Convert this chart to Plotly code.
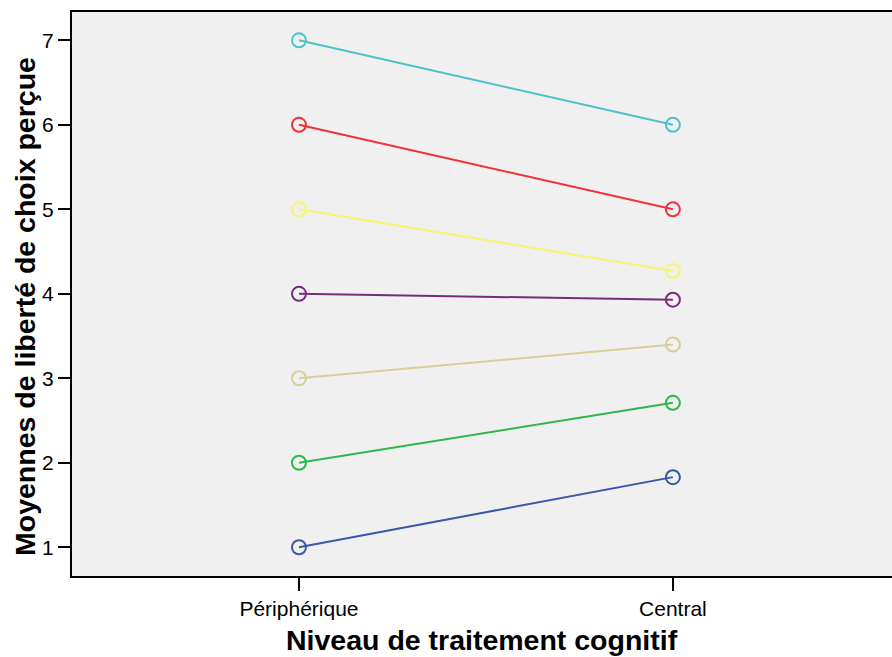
import plotly.graph_objects as go

categories = ["Périphérique", "Central"]
series_names = ["s1", "s2", "s3", "s4", "s5", "s6", "s7"]
peripherique = [7, 6, 5, 4, 3, 2, 1]
central = [6.0, 5.0, 4.27, 3.93, 3.40, 2.71, 1.83]
colors = ["#4CC3C6", "#F2303A", "#F7F56E", "#7A2A7E", "#D8CF98", "#2EB84C", "#3A56A8"]
y_ticks = [1, 2, 3, 4, 5, 6, 7]
x_title = "Niveau de traitement cognitif"
y_title = "Moyennes de liberté de choix perçue"

fig = go.Figure()
for name, a, b, c in zip(series_names, peripherique, central, colors):
    fig.add_trace(go.Scatter(
        x=categories, y=[a, b], mode="lines+markers", name=name,
        line=dict(color=c, width=2),
        marker=dict(symbol="circle-open", size=14, color=c, line=dict(width=2, color=c)),
        showlegend=False, cliponaxis=False,
    ))

font = "Liberation Sans, Arial, sans-serif"
fig.update_layout(
    width=892, height=657,
    margin=dict(l=72, r=0, t=12, b=81),
    paper_bgcolor="white", plot_bgcolor="#F0F0F0",
    font=dict(family=font, color="black"),
    xaxis=dict(type="category", range=[-0.607, 1.586], showgrid=False, zeroline=False,
               showline=True, linecolor="black", linewidth=2, mirror=True,
               ticks="outside", ticklen=13, tickwidth=2, tickcolor="black",
               tickfont=dict(size=21, family=font, color="black")),
    yaxis=dict(range=[0.66, 7.335], tickvals=y_ticks, showgrid=False, zeroline=False,
               showline=True, linecolor="black", linewidth=2,
               ticks="outside", ticklen=12, tickwidth=2, tickcolor="black",
               tickfont=dict(size=21, family=font, color="black")),
    annotations=[
        dict(text=f"<b>{x_title}</b>", xref="paper", yref="paper", x=0.5, y=0,
             yanchor="middle", xanchor="center", yshift=-64, showarrow=False,
             font=dict(size=28.5, family=font, color="black")),
        dict(text=f"<b>{y_title}</b>", xref="paper", yref="paper", x=0, y=0.5,
             xanchor="center", yanchor="middle", xshift=-47, yshift=-13, textangle=-90,
             showarrow=False, font=dict(size=28.5, family=font, color="black")),
    ],
)
fig.write_html("out.html", config={"displayModeBar": False},
               post_script="document.body.style.margin='0';document.body.style.overflow='hidden';")
